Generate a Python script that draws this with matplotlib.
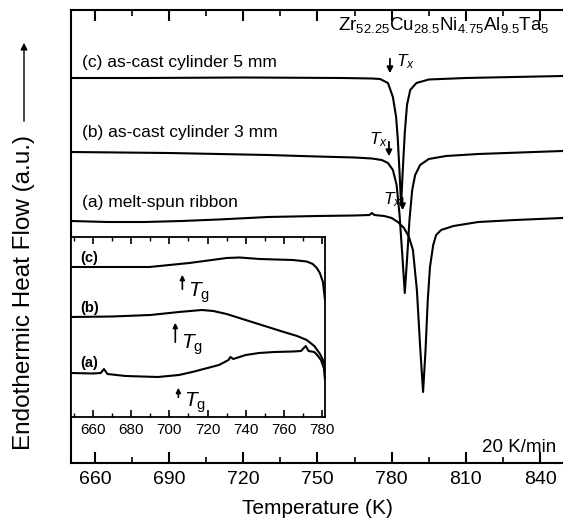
import matplotlib
matplotlib.use("Agg")
import matplotlib.pyplot as plt
import numpy as np

plt.rcParams['font.family'] = ['Liberation Sans', 'DejaVu Sans']
plt.rcParams['mathtext.fontset'] = 'custom'
plt.rcParams['mathtext.rm'] = 'Liberation Sans'
plt.rcParams['mathtext.it'] = 'Liberation Sans:italic'

# ---------------- main DSC curves (Temperature K, heat flow a.u.) ----------------
T_c = [650.3, 680, 720, 760, 772, 775.3, 778.5, 780.5, 781.8, 782.5, 783.2, 783.8,
       784.5, 785.3, 786.2, 787.5, 790, 795, 810, 849]
H_c = [38.5, 38.5, 38.55, 38.5, 38.45, 38.4, 38.0, 36.6, 34.6, 32.3, 29.0, 25.8,
       29.3, 33.0, 35.8, 37.3, 38.0, 38.35, 38.5, 38.7]

T_b = [650.3, 670, 690, 710, 730, 750, 765, 772, 776, 778.5, 780.5, 782, 783.2,
       784.3, 785.3, 786.2, 787.2, 788.3, 789.5, 791.5, 795, 802, 815, 849]
H_b = [31.1, 31.05, 31.0, 30.9, 30.8, 30.65, 30.55, 30.45, 30.3, 30.0, 29.3, 27.8,
       24.8, 20.8, 17.0, 20.3, 24.3, 27.3, 28.8, 29.8, 30.4, 30.7, 30.9, 31.2]

T_a = [650.3, 665, 680, 695, 710, 730, 750, 765, 771, 772, 773, 777, 780, 782.5,
       785, 787, 788.6, 790.2, 791.6, 792.7, 793.7, 794.6, 795.5, 796.8, 798, 800,
       805, 815, 830, 849]
H_a = [24.2, 24.1, 24.1, 24.2, 24.35, 24.6, 24.7, 24.75, 24.8, 25.0, 24.8, 24.7,
       24.5, 24.1, 23.5, 22.6, 21.3, 17.3, 11.3, 7.1, 11.3, 16.3, 19.6, 21.8, 22.8,
       23.3, 23.7, 24.1, 24.3, 24.5]

# ---------------- inset (glass transition region) ----------------
Ti_c = [648.4, 689.5, 710.5, 730, 736.8, 747.3, 764.7, 772, 775.2, 777.3, 778.9,
        780.5, 781.6]
Hi_c = [15.0, 15.0, 15.4, 15.9, 15.95, 15.8, 15.7, 15.55, 15.3, 14.9, 14.4, 13.5, 11.7]

Ti_b = [648.4, 670, 690, 705, 717, 723, 730, 740, 750, 760, 767, 772, 776, 779,
        781, 781.6]
Hi_b = [10.0, 10.05, 10.2, 10.5, 10.7, 10.6, 10.3, 9.7, 9.1, 8.5, 8.1, 7.7, 7.1,
        6.3, 5.5, 5.0]

Ti_a = [648.4, 660, 664, 665.7, 667.5, 677, 694, 705, 712, 720, 726, 731, 732,
        733.5, 740, 747, 755, 765, 769, 771.5, 773, 776, 777.5, 779.5, 781, 781.6]
Hi_a = [4.4, 4.35, 4.4, 4.8, 4.3, 4.1, 4.0, 4.2, 4.5, 4.9, 5.2, 5.7, 6.0, 5.8,
        6.2, 6.4, 6.5, 6.55, 6.6, 7.1, 6.6, 6.5, 6.2, 5.7, 4.9, 3.7]

main_ticks = [660, 690, 720, 750, 780, 810, 840]
inset_ticks = [660, 680, 700, 720, 740, 760, 780]

W, H = 563, 532
fig = plt.figure(figsize=(W / 100, H / 100), dpi=100)


def fx(px):
    return px / W


def fy(py):
    return 1 - py / H


lw = 1.5
ax = fig.add_axes([fx(71), fy(463), fx(563) - fx(71), fy(10) - fy(463)])
ax.plot(T_c, H_c, color='black', lw=lw)
ax.plot(T_b, H_b, color='black', lw=lw)
ax.plot(T_a, H_a, color='black', lw=lw)
ax.set_xlim(650.3, 849.3)
ax.set_ylim(0, 45.3)
ax.spines['right'].set_visible(False)
for s in ['left', 'bottom', 'top']:
    ax.spines[s].set_linewidth(1.5)
ax.set_xticks(main_ticks)
ax.set_xticks(np.arange(675, 850, 30), minor=True)
ax.set_yticks([])
ax.tick_params(axis='x', which='major', direction='in', length=8, width=1.5,
               top=True, labelsize=14, pad=6)
ax.tick_params(axis='x', which='minor', direction='in', length=4, width=1.2, top=True)
ax.set_xlabel('Temperature (K)', fontsize=15, labelpad=8)

# labels
fig.text(fx(82), fy(62), '(c) as-cast cylinder 5 mm', fontsize=12.5, va='center')
fig.text(fx(82), fy(133), '(b) as-cast cylinder 3 mm', fontsize=12.5, va='center')
fig.text(fx(82), fy(203), '(a) melt-spun ribbon', fontsize=12.5, va='center')
fig.text(fx(444), fy(25),
         r'Zr$_{52.25}$Cu$_{28.5}$Ni$_{4.75}$Al$_{9.5}$Ta$_5$',
         fontsize=13.5, ha='center', va='center')
fig.text(fx(556), fy(447), '20 K/min', fontsize=13.5, ha='right', va='center')

# Tx arrows
arrow_kw = dict(arrowstyle='-|>', color='black', lw=1.3, mutation_scale=9)
ax.annotate('', xy=(779.3, 38.7), xytext=(779.3, 40.7), arrowprops=arrow_kw)
ax.annotate('', xy=(778.9, 30.4), xytext=(778.9, 32.4), arrowprops=arrow_kw)
ax.annotate('', xy=(784.4, 25.0), xytext=(784.4, 26.8), arrowprops=arrow_kw)
fig.text(fx(396), fy(62), r'$T_x$', fontsize=12.5, va='center')
fig.text(fx(369), fy(140), r'$T_x$', fontsize=12.5, va='center')
fig.text(fx(383), fy(200), r'$T_x$', fontsize=12.5, va='center')

# y label with arrow
fig.text(fx(24), fy(292), 'Endothermic Heat Flow (a.u.)', rotation=90,
         fontsize=17.5, ha='center', va='center')
fig.patches.append(matplotlib.patches.FancyArrowPatch(
    (fx(24), fy(124)), (fx(24), fy(40)), transform=fig.transFigure,
    arrowstyle='-|>', mutation_scale=10, lw=1.0, color='black'))

# inset
axi = fig.add_axes([fx(71), fy(417), fx(325) - fx(71), fy(237) - fy(417)])
axi.plot(Ti_c, Hi_c, color='black', lw=lw)
axi.plot(Ti_b, Hi_b, color='black', lw=lw)
axi.plot(Ti_a, Hi_a, color='black', lw=lw)
axi.set_xlim(648.4, 781.6)
axi.set_ylim(0, 18)
for s in axi.spines.values():
    s.set_linewidth(1.3)
axi.set_xticks(inset_ticks)
axi.set_xticks(np.arange(650, 781, 10), minor=True)
axi.set_yticks([])
axi.tick_params(axis='x', which='major', direction='in', length=5, width=1.2,
                top=True, labelsize=11, pad=4)
axi.tick_params(axis='x', which='minor', direction='in', length=3, width=1.0, top=True)
fig.text(fx(80), fy(258), '(c)', fontsize=10.5, fontweight='bold', va='center')
fig.text(fx(80), fy(308), '(b)', fontsize=10.5, fontweight='bold', va='center')
fig.text(fx(80), fy(363), '(a)', fontsize=10.5, fontweight='bold', va='center')

g_kw = dict(arrowstyle='-|>', color='black', lw=1.2, mutation_scale=7)
axi.annotate('', xy=(706.8, 14.5), xytext=(706.8, 12.5), arrowprops=g_kw)
axi.annotate('', xy=(703.1, 9.7), xytext=(703.1, 7.2), arrowprops=g_kw)
axi.annotate('', xy=(704.7, 3.2), xytext=(704.7, 1.7), arrowprops=g_kw)
fig.text(fx(188), fy(293), r'$T_\mathrm{g}$', fontsize=15, va='center')
fig.text(fx(181), fy(345), r'$T_\mathrm{g}$', fontsize=15, va='center')
fig.text(fx(184), fy(403), r'$T_\mathrm{g}$', fontsize=15, va='center')

fig.savefig('out.png', dpi=100)
